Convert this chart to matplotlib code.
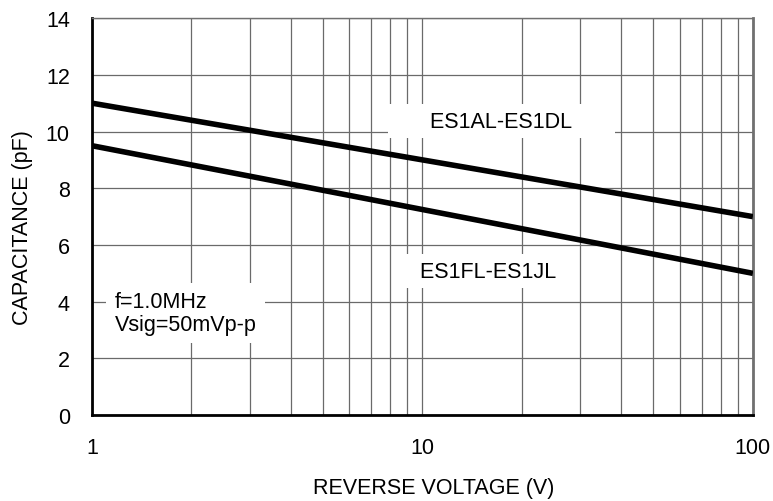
import numpy as np
import matplotlib.pyplot as plt

plt.rcParams['font.family'] = ['Liberation Sans', 'DejaVu Sans']

# data (straight on log axis)
volts = [1, 100]
cap_ad = [11.0, 7.0]   # ES1AL-ES1DL
cap_fj = [9.5, 5.0]    # ES1FL-ES1JL
xticks = [1, 10, 100]
yticks = [0, 2, 4, 6, 8, 10, 12, 14]

fs = 15.5

fig = plt.figure(figsize=(7.73, 5.02), dpi=100)
ax = fig.add_axes([0.119, 0.171, 0.855, 0.791])

ax.plot(volts, cap_ad, color='black', lw=4, solid_capstyle='butt', zorder=3)
ax.plot(volts, cap_fj, color='black', lw=4, solid_capstyle='butt', zorder=3)

ax.set_xscale('log')
ax.set_xlim(1, 100)
ax.set_ylim(0, 14)
ax.set_xticks(xticks)
ax.set_xticklabels([str(t) for t in xticks])
ax.set_yticks(yticks)
ax.tick_params(axis='both', which='both', length=0, labelsize=fs)
ax.tick_params(axis='x', pad=16)
ax.tick_params(axis='y', pad=16)
ax.grid(True, which='both', axis='x', color='#6a6a6a', lw=0.9)
ax.grid(True, which='major', axis='y', color='#6a6a6a', lw=0.9)

for s in ['left', 'bottom']:
    ax.spines[s].set_linewidth(2)
    ax.spines[s].set_color('black')
for s in ['top', 'right']:
    ax.spines[s].set_color('#707070')
ax.spines['top'].set_linewidth(1)
ax.spines['right'].set_linewidth(2)

# curve labels sit on white boxes that hide the grid
ax.text(17.3, 10.37, '      ES1AL-ES1DL      ', ha='center', va='center', fontsize=fs,
        bbox=dict(facecolor='white', edgecolor='none', pad=5), zorder=4)
ax.text(15.1, 5.08, '   ES1FL-ES1JL ', ha='center', va='center', fontsize=fs,
        bbox=dict(facecolor='white', edgecolor='none', pad=5), zorder=4)
ax.text(1.17, 3.6, 'f=1.0MHz\nVsig=50mVp-p', ha='left', va='center', fontsize=fs,
        linespacing=1.1, bbox=dict(facecolor='white', edgecolor='none', pad=6), zorder=4)

ax.set_xlabel('REVERSE VOLTAGE (V)', fontsize=fs)
ax.set_ylabel('CAPACITANCE (pF)', fontsize=fs)
ax.xaxis.set_label_coords(0.517, -0.155)
ax.yaxis.set_label_coords(-0.089, 0.476)

fig.savefig('out.png', dpi=100)
